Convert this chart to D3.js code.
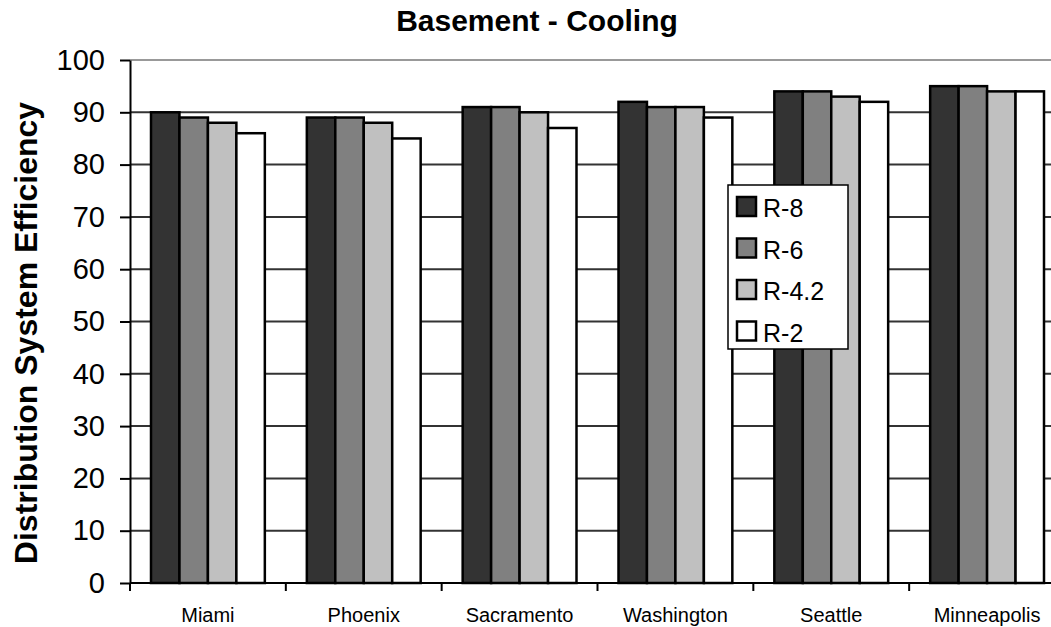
<!DOCTYPE html>
<html lang="en">
<head>
<meta charset="UTF-8">
<title>Basement - Cooling</title>
<script src="https://cdn.jsdelivr.net/npm/d3@7"></script>
<style>
	body { margin: 0; background: #fff; }
	svg { font-family: Arial, "Liberation Sans", sans-serif; }
</style>
</head>
<body>
<svg id="chart" width="1051" height="627"></svg>
<script>
var cities = ["Miami", "Phoenix", "Sacramento", "Washington", "Seattle", "Minneapolis"];
var seriesNames = ["R-8", "R-6", "R-4.2", "R-2"];
var r8  = [90, 89, 91, 92, 94, 95];
var r6  = [89, 89, 91, 91, 94, 95];
var r42 = [88, 88, 90, 91, 93, 94];
var r2  = [86, 85, 87, 89, 92, 94];
var yTicks = [0, 10, 20, 30, 40, 50, 60, 70, 80, 90, 100];

var colors = ["#333333", "#808080", "#c0c0c0", "#ffffff"];
var seriesVals = [r8, r6, r42, r2];

var svg = d3.select("#chart");
// note: "top" is reserved on window, so use other names
var plotL = 130, plotT = 60, plotB = 583, plotR = 1065;

var x = d3.scaleBand().domain(cities).range([plotL, plotR]).paddingInner(0).paddingOuter(0);
var x1 = d3.scaleBand().domain(seriesNames).range([21, x.bandwidth() - 21]);
var y = d3.scaleLinear().domain([0, 100]).range([plotB, plotT]);

// gridlines
svg.append("g")
	.selectAll("line")
	.data(yTicks.filter(function(d){ return d > 0 && d < 100; }))
	.enter().append("line")
	.attr("x1", plotL).attr("x2", plotR)
	.attr("y1", function(d){ return y(d); })
	.attr("y2", function(d){ return y(d); })
	.attr("stroke", "#333").attr("stroke-width", 2);

// top border of plot area
svg.append("line")
	.attr("x1", plotL).attr("x2", plotR)
	.attr("y1", y(100)).attr("y2", y(100))
	.attr("stroke", "#999").attr("stroke-width", 2);

// bars
var groups = svg.append("g").selectAll("g")
	.data(cities)
	.enter().append("g")
	.attr("transform", function(d){ return "translate(" + x(d) + ",0)"; });

groups.selectAll("rect")
	.data(function(d, i){ return seriesNames.map(function(s, j){ return {s: s, v: seriesVals[j][i], c: colors[j]}; }); })
	.enter().append("rect")
	.attr("x", function(d){ return x1(d.s); })
	.attr("width", x1.bandwidth())
	.attr("y", function(d){ return y(d.v); })
	.attr("height", function(d){ return plotB - y(d.v); })
	.attr("fill", function(d){ return d.c; })
	.attr("stroke", "#000")
	.attr("stroke-width", 2.5);

// y axis
var yAxis = svg.append("g")
	.attr("transform", "translate(" + plotL + ",0)")
	.call(d3.axisLeft(y).tickValues(yTicks).tickSize(10).tickPadding(15).tickSizeOuter(0));
yAxis.select(".domain").attr("stroke", "#000").attr("stroke-width", 2);
yAxis.selectAll(".tick line").attr("stroke", "#000").attr("stroke-width", 2);
yAxis.selectAll(".tick text").attr("font-size", 29).attr("fill", "#000").attr("font-family", "Arial, 'Liberation Sans', sans-serif");

// x axis
svg.append("line")
	.attr("x1", plotL).attr("x2", plotR)
	.attr("y1", plotB).attr("y2", plotB)
	.attr("stroke", "#000").attr("stroke-width", 2);
svg.append("g").selectAll("line")
	.data(cities)
	.enter().append("line")
	.attr("x1", function(d){ return x(d); })
	.attr("x2", function(d){ return x(d); })
	.attr("y1", plotB).attr("y2", plotB + 8)
	.attr("stroke", "#000").attr("stroke-width", 2);
svg.append("g").selectAll("text")
	.data(cities)
	.enter().append("text")
	.attr("x", function(d){ return x(d) + x.bandwidth() / 2; })
	.attr("y", 622)
	.attr("text-anchor", "middle")
	.attr("font-size", 20)
	.text(function(d){ return d; });

// title
svg.append("text")
	.attr("x", 537).attr("y", 31)
	.attr("text-anchor", "middle")
	.attr("font-size", 30).attr("font-weight", "bold")
	.text("Basement - Cooling");

// y label
svg.append("text")
	.attr("transform", "translate(37,333) rotate(-90)")
	.attr("text-anchor", "middle")
	.attr("font-size", 32).attr("font-weight", "bold")
	.text("Distribution System Efficiency");

// legend
var lg = svg.append("g").attr("transform", "translate(728,185)");
lg.append("rect")
	.attr("width", 120).attr("height", 164)
	.attr("fill", "#fff").attr("stroke", "#000").attr("stroke-width", 1.5);
var items = lg.selectAll("g.item")
	.data(seriesNames)
	.enter().append("g")
	.attr("class", "item")
	.attr("transform", function(d, i){ return "translate(0," + (22 + i * 41.5) + ")"; });
items.append("rect")
	.attr("x", 9).attr("y", -10).attr("width", 19).attr("height", 19)
	.attr("fill", function(d, i){ return colors[i]; })
	.attr("stroke", "#000").attr("stroke-width", 2.5);
items.append("text")
	.attr("x", 35).attr("y", 10)
	.attr("font-size", 25)
	.text(function(d){ return d; });
</script>
</body>
</html>
